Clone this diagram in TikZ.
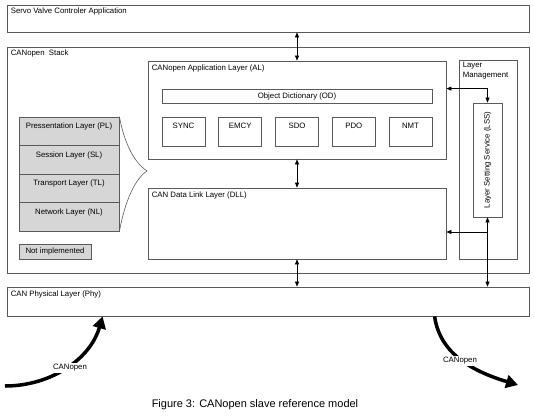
\documentclass[tikz,border=0pt]{standalone}
\usepackage{fontspec}
\setmainfont{Liberation Sans}
\usetikzlibrary{arrows.meta,calc}
\definecolor{linec}{RGB}{90,90,90}
\definecolor{greyfill}{RGB}{214,214,214}
\begin{document}
\begin{tikzpicture}[x=1pt,y=-1pt,
  font=\fontsize{7.8}{10}\selectfont,
  box/.style={draw=linec,line width=0.8pt,rectangle,inner sep=0pt},
  greybox/.style={box,fill=greyfill},
  lbl/.style={anchor=base west,inner sep=0pt},
  toplbl/.style={anchor=base,inner sep=0pt},
  dbl/.style={draw=black,line width=0.6pt,{Triangle[length=5pt,width=4pt]}-{Triangle[length=5pt,width=4pt]}},
  sgl/.style={draw=black,line width=0.6pt,-{Triangle[length=5pt,width=4pt]}},
  bigarrow/.style={draw=black,line width=3.5pt,-{Triangle[length=12pt,width=13pt]}},
  tag/.style={fill=white,inner sep=1pt}
]
\useasboundingbox (0,0) rectangle (534,417);

% main boxes
\node[box,minimum width=522pt,minimum height=27pt] (servo) at (268,18.5) {};
\node[box,minimum width=522pt,minimum height=226pt] (stack) at (268,160) {};
\node[box,minimum width=298pt,minimum height=98pt] (al) at (297,110) {};
\node[box,minimum width=270pt,minimum height=14pt] (od) at (297,96) {Object Dictionary (OD)};
\node[box,minimum width=298pt,minimum height=71pt] (dll) at (297,223.5) {};
\node[box,minimum width=58pt,minimum height=199pt] (lm) at (488,159.5) {};
\node[box,minimum width=29pt,minimum height=114pt] (lss) at (487.5,160) {};
\node[rotate=90,inner sep=0pt] (lsst) at (lss.center) {Layer Setting Service (LSS)};
\node[box,minimum width=522pt,minimum height=29pt] (phy) at (268,301.5) {};

% service boxes
\foreach \n/\x in {sync/183.5,emcy/240.25,sdo/297,pdo/353.75,nmt/410.5}{
  \node[box,minimum width=43pt,minimum height=29pt] (\n) at (\x,131.5) {};
}
\node[toplbl] at ($(sync.north)+(0,12)$) {SYNC};
\node[toplbl] at ($(emcy.north)+(0,12)$) {EMCY};
\node[toplbl] at ($(sdo.north)+(0,12)$) {SDO};
\node[toplbl] at ($(pdo.north)+(0,12)$) {PDO};
\node[toplbl] at ($(nmt.north)+(0,12)$) {NMT};

% grey (not implemented) layers
\node[greybox,minimum width=100pt,minimum height=28.5pt] (pl) at (69,131.25) {};
\node[greybox,minimum width=100pt,minimum height=28.5pt] (sl) at (69,159.75) {};
\node[greybox,minimum width=100pt,minimum height=28.5pt] (tl) at (69,188.25) {};
\node[greybox,minimum width=100pt,minimum height=28.5pt] (nl) at (69,216.75) {};
\node[toplbl] at ($(pl.north)+(0,12)$) {Pressentation Layer (PL)};
\node[toplbl] at ($(sl.north)+(0,12)$) {Session Layer (SL)};
\node[toplbl] at ($(tl.north)+(0,12)$) {Transport Layer (TL)};
\node[toplbl] at ($(nl.north)+(0,12)$) {Network Layer (NL)};
\node[greybox,minimum width=72pt,minimum height=15pt] (ni) at (55,251.5) {Not implemented};

% labels
\node[lbl] at ($(servo.north west)+(4,9)$) {Servo Valve Controler Application};
\node[lbl] at ($(stack.north west)+(4,9)$) {CANopen\ \ Stack};
\node[lbl] at ($(al.north west)+(4,9.5)$) {CANopen Application Layer (AL)};
\node[lbl] at ($(dll.north west)+(4,9.5)$) {CAN Data Link Layer (DLL)};
\node[lbl] at ($(phy.north west)+(4,10)$) {CAN Physical Layer (Phy)};
\node[anchor=north west,inner sep=0pt,align=left] at ($(lm.north west)+(4,2.5)$) {Layer\\Management};

% brace
\coordinate (tip) at (147,171);
\draw[linec,line width=0.6pt] (pl.north east) .. controls +(4,22) and +(-15,-10) .. (tip)
  .. controls +(-15,10) and +(4,-22) .. (nl.south east);

% connectors
\draw[dbl] (al.north |- servo.south) -- (al.north);
\draw[dbl] (al.south) -- (dll.north);
\draw[dbl] (dll.south) -- (dll.south |- phy.north);
\draw[dbl] (al.east |- od.north) -- (lss.north |- od.north) -- (lss.north);
\draw[dbl] (lss.south) -- (lss.south |- phy.north);
\coordinate (junc) at (487.5,232);
\draw[sgl] (junc) -- (junc -| dll.east);

% CANopen bus arrows
\coordinate (inL) at (5,386);
\coordinate (outR) at (518,385);
\draw[bigarrow] (inL) .. controls (50,386) and (90,360) .. ($(phy.south west)+(96,0)$);
\draw[bigarrow] ($(phy.south west)+(428,0)$) .. controls (440,355) and (475,372) .. (outR);
\node[tag] (tagL) at (70,368) {CANopen};
\node[tag] (tagR) at (460,361) {CANopen};

% caption
\node[font=\fontsize{11}{13}\selectfont] (cap) at (255,405) {Figure 3: CANopen slave reference model};
\end{tikzpicture}
\end{document}
